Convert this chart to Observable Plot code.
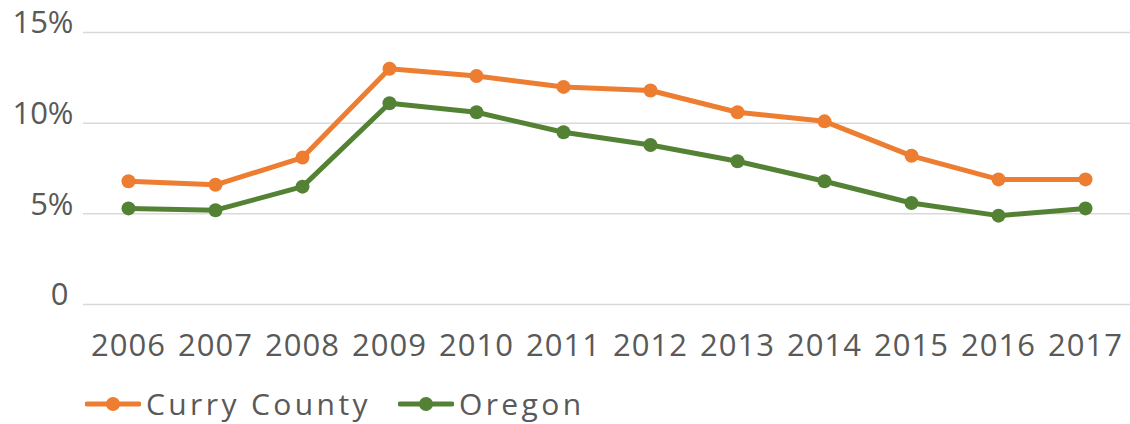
<!DOCTYPE html>
<html>
<head>
<meta charset="utf-8">
<script src="https://cdn.jsdelivr.net/npm/d3@7"></script>
<script src="https://cdn.jsdelivr.net/npm/@observablehq/plot@0.6"></script>
<style>
  html, body { margin: 0; padding: 0; background: #fff; }
  body { width: 1130px; height: 424px; overflow: hidden; font-family: "Open Sans", sans-serif; }
  #legend { display: flex; align-items: center; height: 41px; padding-left: 85px; gap: 27px; color: #595959; font-size: 30px; letter-spacing: 3.4px; }
  .item { display: flex; align-items: center; }
  .item svg { margin-right: 5px; }
</style>
</head>
<body>
<div id="chart"></div>
<div id="legend"></div>
<script>
const years = ["2006","2007","2008","2009","2010","2011","2012","2013","2014","2015","2016","2017"];
const curryCounty = [6.8, 6.6, 8.1, 13.0, 12.6, 12.0, 11.8, 10.6, 10.1, 8.2, 6.9, 6.9];
const oregon = [5.3, 5.2, 6.5, 11.1, 10.6, 9.5, 8.8, 7.9, 6.8, 5.6, 4.9, 5.3];
const seriesNames = ["Curry County", "Oregon"];
const seriesColors = ["#ED7D31", "#548235"];
const yTicks = [0, 5, 10, 15];

const data = [];
years.forEach((y, i) => data.push({year: y, value: curryCounty[i], series: seriesNames[0]}));
years.forEach((y, i) => data.push({year: y, value: oregon[i], series: seriesNames[1]}));

const chart = Plot.plot({
  width: 1130,
  height: 383,
  marginTop: 32,
  marginBottom: 79,
  marginLeft: 83,
  marginRight: 0,
  style: {fontFamily: "'Open Sans', sans-serif", color: "#595959", background: "white"},
  x: {type: "point", domain: years, padding: 0.5, label: null},
  y: {domain: [0, 15], label: null},
  color: {domain: seriesNames, range: seriesColors},
  marks: [
    Plot.ruleY(yTicks, {stroke: "#d9d9d9", strokeWidth: 1.5}),
    Plot.axisY(yTicks, {tickSize: 0, tickPadding: 10, fontSize: 31, dy: -9, fill: "#595959",
      tickFormat: d => d === 0 ? "0\u2009" : d + "%"}),
    Plot.axisX({tickSize: 0, tickPadding: 29, fontSize: 31, fill: "#595959"}),
    Plot.line(data, {x: "year", y: "value", stroke: "series", strokeWidth: 5, z: "series"}),
    Plot.dot(data, {x: "year", y: "value", fill: "series", r: 7})
  ]
});
chart.querySelectorAll("g[aria-label='x-axis tick label'] text").forEach(t => t.setAttribute("letter-spacing", "1"));
document.getElementById("chart").appendChild(chart);

const legend = document.getElementById("legend");
seriesNames.forEach((name, i) => {
  const item = document.createElement("div");
  item.className = "item";
  item.innerHTML = `<svg width="56" height="20"><line x1="2" y1="10" x2="54" y2="10" stroke="${seriesColors[i]}" stroke-width="5" stroke-linecap="round"/><circle cx="28" cy="10" r="7" fill="${seriesColors[i]}"/></svg><span>${name}</span>`;
  legend.appendChild(item);
});
</script>
</body>
</html>
